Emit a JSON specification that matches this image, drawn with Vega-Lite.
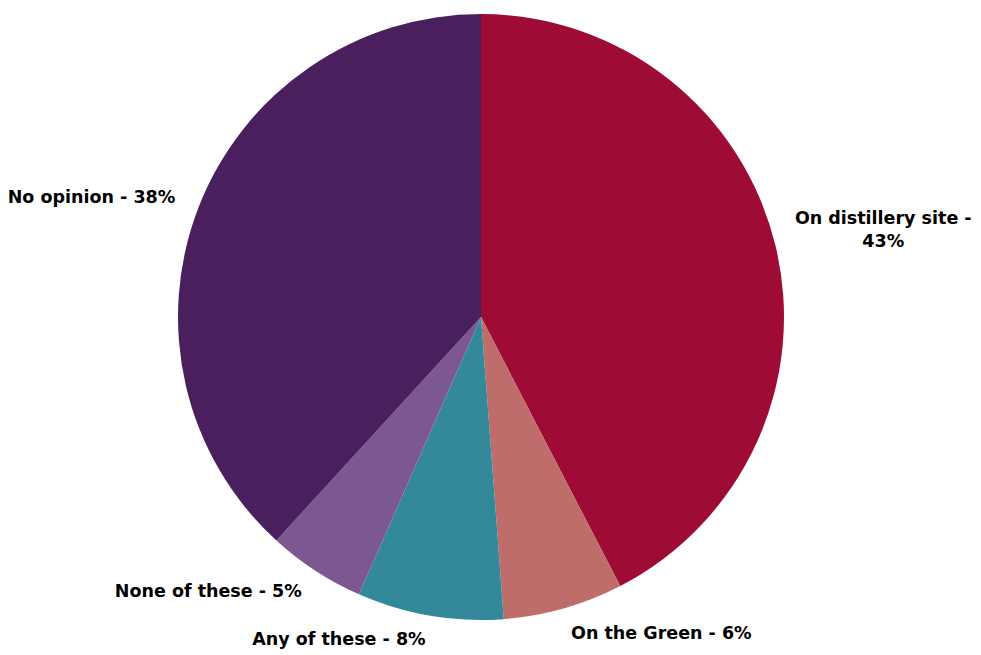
{
  "$schema": "https://vega.github.io/schema/vega-lite/v6.json",
  "width": 962,
  "height": 634,
  "autosize": "none",
  "padding": {"left": 0, "top": 0, "right": 19, "bottom": 21},
  "background": "white",
  "config": {"view": {"stroke": null}, "text": {"font": "DejaVu Sans", "fontWeight": "bold", "fontSize": 17.5, "color": "black"}},
  "data": {
    "values": [
      {"category": "On distillery site", "value": 42.4, "order": 1, "label": "On distillery site -\n43%", "side": "top"},
      {"category": "On the Green", "value": 6.4, "order": 2, "label": "On the Green - 6%", "side": "right"},
      {"category": "Any of these", "value": 7.8, "order": 3, "label": "Any of these - 8%", "side": "left"},
      {"category": "None of these", "value": 5.2, "order": 4, "label": "None of these - 5%", "side": "left"},
      {"category": "No opinion", "value": 38.2, "order": 5, "label": "No opinion - 38%", "side": "left"}
    ]
  },
  "encoding": {
    "theta": {"field": "value", "type": "quantitative", "stack": true},
    "order": {"field": "order", "type": "quantitative"}
  },
  "layer": [
    {
      "mark": {"type": "arc", "radius": 303},
      "encoding": {
        "color": {
          "field": "category",
          "type": "nominal",
          "scale": {
            "domain": ["On distillery site", "On the Green", "Any of these", "None of these", "No opinion"],
            "range": ["#9E0B35", "#BE6D6B", "#33889A", "#7B5990", "#4A1F5E"]
          },
          "legend": null
        }
      }
    },
    {
      "mark": {"type": "text", "radius": 414, "align": "center", "baseline": "middle", "lineBreak": "\n", "lineHeight": 23},
      "encoding": {"text": {"condition": {"test": "datum.side == 'top'", "field": "label"}, "value": ""}}
    },
    {
      "mark": {"type": "text", "radius": 330, "align": "left", "baseline": "middle"},
      "encoding": {"text": {"condition": {"test": "datum.side == 'right'", "field": "label"}, "value": ""}}
    },
    {
      "mark": {"type": "text", "radius": 328, "align": "right", "baseline": "middle"},
      "encoding": {"text": {"condition": {"test": "datum.side == 'left'", "field": "label"}, "value": ""}}
    }
  ]
}
